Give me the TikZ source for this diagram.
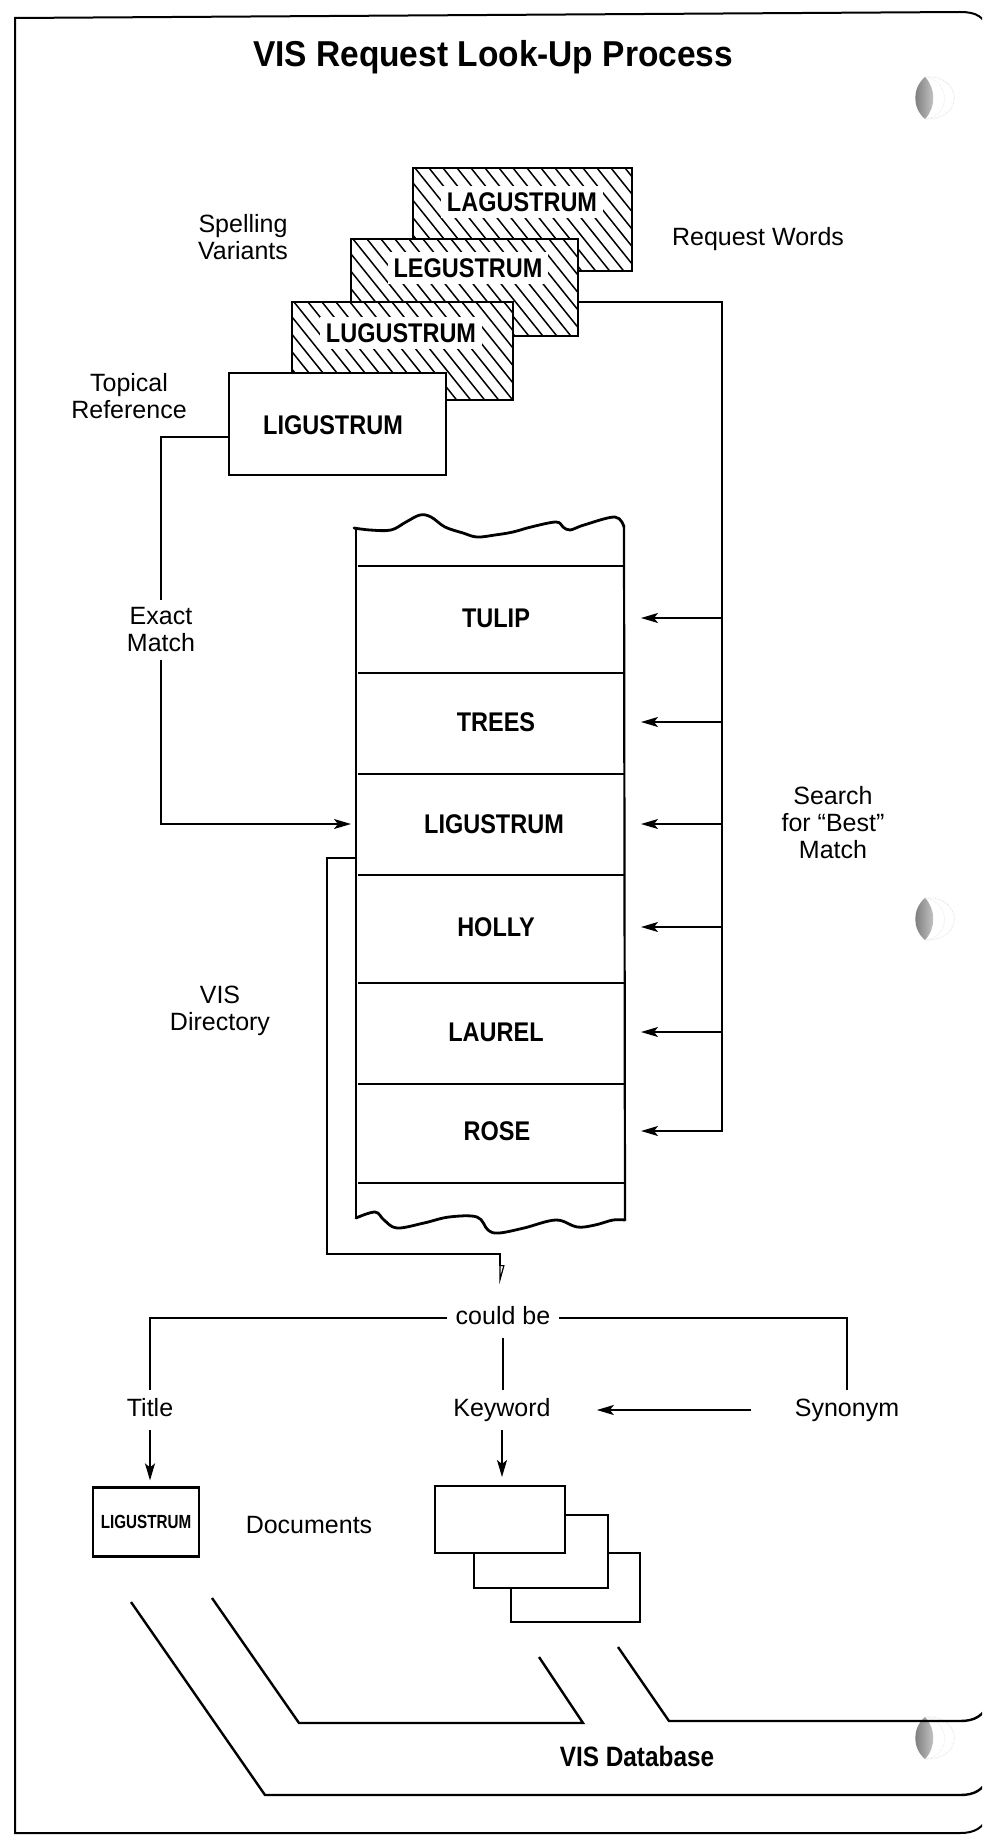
\documentclass[tikz,border=0pt]{standalone}
\usepackage{fontspec}
\setmainfont{Liberation Sans}
\newfontfamily\hvc[FakeStretch=0.87]{Liberation Sans}
\newfontfamily\hvt[FakeStretch=0.93]{Liberation Sans}
\newfontfamily\hvn[FakeStretch=0.80]{Liberation Sans}
\usetikzlibrary{arrows.meta}
\begin{document}
\begin{tikzpicture}[x=1pt,y=-1pt,
  box/.style={draw, line width=2.2pt, fill=white, inner sep=0pt},
  hbox/.style={box, path picture={\foreach \i in {0,...,34}{\draw[line width=1.5pt] ([xshift=\i*14pt-110pt]path picture bounding box.north west) -- ++(110,137);}}},
  wlbl/.style={font=\hvc\bfseries\fontsize{27}{30}\selectfont, fill=white, inner sep=6pt},
  bl/.style={font=\hvc\bfseries\fontsize{27}{30}\selectfont, inner sep=0pt},
  lbl/.style={font=\fontsize{25}{27}\selectfont, align=center, inner sep=0pt},
  lbl2/.style={lbl, text height=18pt, text depth=5pt, inner ysep=8pt, inner xsep=0pt},
  ln/.style={line width=1.8pt},
  arr/.style={ln, -{Stealth[length=17pt, width=10pt, inset=4pt]}},
  dirl/.style={line width=2.2pt},
  wave/.style={line width=2.8pt, line join=round, line cap=round},
  docbox/.style={draw, line width=2pt, fill=white, inner sep=0pt},
  db/.style={line width=2.4pt, line join=miter}
]
\useasboundingbox (0,0) rectangle (982,1835);
\clip (0,0) rectangle (982,1835);

% page frame
\draw[line width=2pt] (990,34) .. controls (985,16) and (976,12) .. (960,12) -- (15,18) -- (15,1833) -- (960,1833) .. controls (975,1833) and (983,1828) .. (990,1814);

% binder holes
\foreach \hy in {98,919,1738} {
  \draw[gray!30, line width=0.7pt, densely dotted] (925,\hy-21) .. controls (962,\hy-24) and (966,\hy+22) .. (925,\hy+21);
  \draw[gray!25, line width=0.6pt, densely dotted] (925,\hy-21) .. controls (950,\hy-18) and (952,\hy+18) .. (925,\hy+21);
  \shade[left color=gray!90!black, right color=gray!40] (925,\hy-21) .. controls (912,\hy-10) and (912,\hy+10) .. (925,\hy+21) .. controls (936,\hy+10) and (936,\hy-10) .. (925,\hy-21);
}

% title
\node[font=\hvt\bfseries\fontsize{36}{40}\selectfont] (ttl) at (493,57) {VIS Request Look-Up Process};

% request word stack
\node[hbox, minimum width=219pt, minimum height=103pt] (lag) at (522.5,219.5) {};
\node[wlbl] (lagt) at (522,202) {LAGUSTRUM};
\node[hbox, minimum width=227pt, minimum height=97pt] (leg) at (464.5,287.5) {};
\node[wlbl] (legt) at (468,268) {LEGUSTRUM};
\node[hbox, minimum width=221pt, minimum height=98pt] (lug) at (402.5,351) {};
\node[wlbl] (lugt) at (401,333) {LUGUSTRUM};
\node[box, minimum width=217pt, minimum height=102pt] (lig) at (337.5,424) {};
\node[bl] (ligt) at (333,425) {LIGUSTRUM};

\node[lbl] (spv) at (243,237) {Spelling\\Variants};
\node[lbl] (rqw) at (758,239) {Request Words};
\node[lbl] (topr) at (129,396) {Topical\\Reference};

% directory
\draw[dirl] (356,528) -- (356,1218);
\draw[dirl] (624,527) -- (625,1220);
\draw[wave] plot[smooth, tension=0.6] coordinates {(354,528) (370,530) (391,530) (406,522) (420,515) (431,517) (445,527) (463,533) (477,537) (495,535) (513,532) (531,527) (556,522) (563,527) (570,530) (584,525) (615,517) (624,527)};
\draw[wave] plot[smooth, tension=0.6] coordinates {(356,1218) (375,1212) (384,1220) (397,1228) (424,1223) (449,1217) (477,1217) (488,1230) (499,1233) (524,1228) (556,1220) (577,1227) (595,1225) (613,1220) (625,1220)};
\foreach \yy in {566,673,774,875,983,1084,1183} \draw[ln] (358,\yy) -- (625,\yy);

\node[bl] (tul) at (496,618) {TULIP};
\node[bl] (tre) at (496,722) {TREES};
\node[bl] (lgr) at (494,824) {LIGUSTRUM};
\node[bl] (hol) at (496,927) {HOLLY};
\node[bl] (lau) at (496,1032) {LAUREL};
\node[bl] (ros) at (497,1131) {ROSE};

\coordinate (dirL) at (356,0);
\coordinate (emx) at (161,437);
\draw[arr] ([yshift=-13pt]lig.west) -- (emx) -- (emx |- lgr) -- ([xshift=-5pt]dirL |- lgr);
\node[lbl, fill=white, inner xsep=4pt, inner ysep=8pt] (exm) at (161,630) {Exact\\Match};

% search for best match
\coordinate (sx) at (722,302);
\coordinate (tx) at (641,0);
\draw[arr] (leg.east |- sx) -- (sx) -- (sx |- ros) -- (tx |- ros);
\foreach \n in {tul,tre,lgr,hol,lau} \draw[arr] (sx |- \n) -- (tx |- \n);
\node[lbl] (sbm) at (833,823) {Search\\for ``Best''\\Match};
\node[lbl] (visd) at (220,1011) {VIS\\Directory};

% bracket to "could be"
\coordinate (bk) at (356,858);
\coordinate (bkl) at (327,1254);
\coordinate (bkr) at (500,1254);
\node[lbl2, fill=white, inner xsep=9pt] (cb) at (503,1318) {could be};
\draw[ln, -{Triangle[open, left, length=17pt, width=9pt, line width=1.2pt]}] (bk) -- (bk -| bkl) -- (bkl) -- (bkr) -- ([yshift=14pt]bkr |- cb.north);

\node[lbl2] (tit) at (150,1410) {Title};
\node[lbl2] (kw) at (502,1410) {Keyword};
\node[lbl2] (syn) at (847,1410) {Synonym};
\draw[ln] (cb.west) -- (cb.west -| tit.north) -- (tit.north);
\draw[ln] (cb.east) -- (cb.east -| syn.north) -- (syn.north);
\draw[ln] (cb.south) -- (cb.south |- kw.north);
\draw[arr, shorten <=44pt, shorten >=46pt] (syn.west) -- (kw.east);

% documents
\node[box, minimum width=106pt, minimum height=69pt, font=\hvn\bfseries\fontsize{19}{20}\selectfont] (sdoc) at (146,1522) {LIGUSTRUM};
\node[lbl] (docs) at (309,1525) {Documents};
\node[docbox, minimum width=129pt, minimum height=69pt] (d3) at (575.5,1587.5) {};
\node[docbox, minimum width=134pt, minimum height=73pt] (d2) at (541,1551.5) {};
\node[docbox, minimum width=130pt, minimum height=67pt] (d1) at (500,1519.5) {};
\draw[arr, shorten >=6pt] (tit.south) -- (tit.south |- sdoc.north);
\draw[arr, shorten >=8pt] (kw.south) -- (kw.south |- d1.north);

% database
\draw[db] (131,1602) -- (265,1795) -- (960,1795) .. controls (975,1795) and (983,1790) .. (990,1776);
\draw[db] (212,1598) -- (299,1723) -- (583,1723) -- (539,1657);
\draw[db] (618,1647) -- (669,1721) -- (960,1721) .. controls (975,1721) and (983,1716) .. (990,1702);
\node[bl, font=\hvc\bfseries\fontsize{28}{30}\selectfont] (vdb) at (637,1756) {VIS Database};
\end{tikzpicture}
\end{document}
